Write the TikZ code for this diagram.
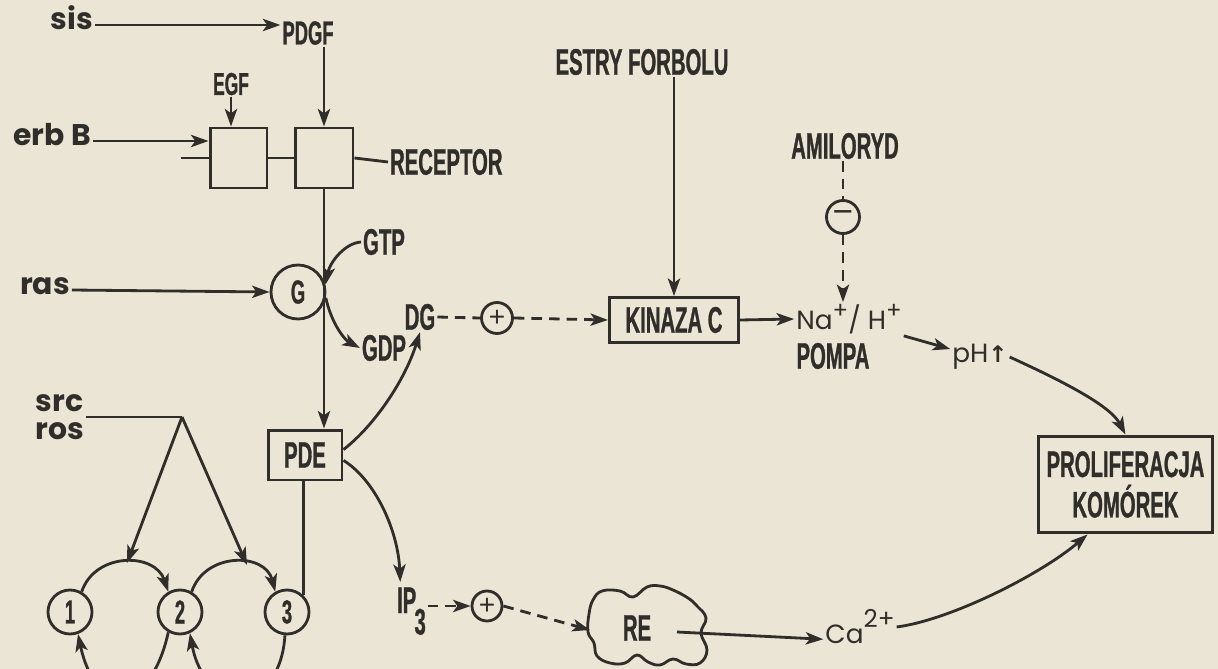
\documentclass[tikz,border=0pt]{standalone}
\usepackage{fontspec}
\setmainfont{Liberation Sans}
\newfontfamily\cond{Liberation Sans}[FakeStretch=0.55, BoldFeatures={FakeBold=0.8}]
\newfontfamily\geo{Poppins}
\newfontfamily\djv{DejaVu Sans}
\usetikzlibrary{arrows.meta}
\definecolor{ink}{RGB}{48,46,42}
\definecolor{paper}{RGB}{235,229,213}
\newcommand\capf{\cond\bfseries\fontsize{21}{23}\selectfont}
\newcommand\labf{\geo\bfseries\fontsize{17}{17}\selectfont}
\newcommand\regf{\geo\fontsize{15}{15}\selectfont}
\tikzset{
  ln/.style={draw=ink, line width=1.6pt},
  arr/.style={ln, -{Stealth[length=10pt,width=7pt,inset=2.5pt]}},
  dsh/.style={ln, dash pattern=on 6pt off 4pt},
  darr/.style={dsh, -{Stealth[length=10pt,width=7pt,inset=2.5pt]}},
  captxt/.style={inner sep=1pt, font=\capf, text=ink},
  lab/.style={inner sep=1pt, font=\labf, text=ink},
  reg/.style={inner sep=1pt, font=\regf, text=ink},
  box/.style={draw=ink, line width=1.7pt, inner sep=0pt, font=\capf, text=ink, align=center},
  circ/.style={circle, draw=ink, line width=1.6pt, inner sep=0pt, font=\capf\fontsize{19}{19}\selectfont, text=ink},
  sign/.style={circle, draw=ink, line width=1.6pt, inner sep=0pt, text=ink, font=\rmfamily\fontsize{16}{16}\selectfont}
}
\begin{document}
\begin{tikzpicture}[x=0.02cm,y=-0.02cm]
\useasboundingbox (0,0) rectangle (1218,669);
\fill[paper] (0,0) rectangle (1218,669);

% top left
\node[lab, anchor=mid] (sis) at (72,25) {sis};
\node[captxt, font=\capf\fontsize{19}{19}\selectfont] (pdgf) at (308,33) {PDGF};
\node[captxt, font=\capf\fontsize{18}{18}\selectfont] (egf) at (231,84) {EGF};
\node[lab, anchor=mid] (erb) at (52,141) {erb B};
\node[box, minimum width=1.14cm, minimum height=1.2cm] (b1) at (238.5,158) {};
\node[box, minimum width=1.16cm, minimum height=1.2cm] (b2) at (324,158) {};
\node[captxt, anchor=west] (rec) at (388,162) {RECEPTOR};

% G protein
\node[circ, minimum size=1.08cm] (g) at (298,292) {G};
\node[lab, anchor=mid] (ras) at (45,290) {ras};
\node[captxt] (gtp) at (384,242) {GTP};
\node[captxt] (gdp) at (384,348) {GDP};
\node[captxt] (dg) at (420,317) {DG};
\node[sign, minimum size=0.62cm] (p1) at (497,318) {+};

% kinase
\node[box, minimum width=2.58cm, minimum height=0.9cm] (kin) at (674,320) {KINAZA C};
\node[captxt] (estry) at (642,62) {ESTRY FORBOLU};
\node[captxt] (amil) at (845,146) {AMILORYD};
\node[sign, minimum size=0.66cm] (m1) at (843,217) {\fontsize{20}{20}\selectfont −};
\node[reg] (na) at (849,319) {Na\raisebox{0.75ex}{\fontsize{13}{13}\selectfont +}/ H\raisebox{0.75ex}{\fontsize{13}{13}\selectfont +}};
\node[captxt] (pompa) at (833,356) {POMPA};
\node[reg] (ph) at (980,357) {pH{\djv\bfseries\fontsize{13}{13}\selectfont ↑}};
\node[box, minimum width=3.5cm, minimum height=1.94cm] (prol) at (1125.5,484.5) {PROLIFERACJA\\KOMÓREK};

% PDE and lower left
\node[box, minimum width=1.48cm, minimum height=1cm] (pde) at (305,455) {PDE};
\node[lab, align=left, font=\geo\bfseries\fontsize{17}{16}\selectfont] (sr) at (60,417) {src\\ros};
\coordinate (apex) at (182,417);
\coordinate (t12) at (127,563);
\coordinate (t23) at (247,565);
\node[circ, minimum size=0.88cm] (c1) at (70,612) {1};
\node[circ, minimum size=0.88cm] (c2) at (180,612) {2};
\node[circ, minimum size=0.88cm] (c3) at (287,612) {3};

% IP3 and RE
\node[captxt, anchor=base west] (ip) at (395,613) {IP\kern-1pt\raisebox{-1.1ex}{3}};
\node[sign, minimum size=0.6cm] (p2) at (487,606) {+};
\draw[ln] plot[smooth cycle, tension=0.7] coordinates {
  (593,600) (602,591) (620,591) (633,597) (647,587) (660,586) (673,590)
  (688,598) (697,606) (706,618) (701,633) (707,650) (700,663) (686,664)
  (673,659) (660,665) (648,662) (637,655) (625,663) (610,663) (597,656)
  (594,643) (588,632) (589,614)};
\node[captxt] (re) at (637,628) {RE};
\coordinate (reL) at (590,630);
\coordinate (reR) at (677,632);
\node[reg] (ca) at (860,627) {Ca\raisebox{1.1ex}{\fontsize{14}{14}\selectfont 2+}};

% connectors top
\draw[arr] (sis.mid east) -- (sis.mid east -| pdgf.west);
\draw[arr] (egf.south) -- (egf.south |- b1.north);
\draw[arr] (b2.north |- pdgf.south) -- (b2.north);
\draw[arr] (erb.mid east) -- (erb.mid east -| b1.west);
\draw[ln] (b1.west) -- ++(-28,0);
\draw[ln] (b1.east) -- (b2.west);
\draw[ln] (b2.east) -- (rec.west);
\draw[arr] (b2.south) -- (b2.south |- pde.north);
\draw[arr] (ras.mid east) -- (g.west);
\draw[arr] (gtp.west) .. controls (345,243) and (330,262) .. (g.15);
\draw[arr] (g.-12) .. controls (332,325) and (345,340) .. (gdp.west);
\draw[dsh] (dg.east) -- (p1.west);
\draw[darr] (p1.east) -- (kin.west);
\draw[arr] (kin.north |- estry.south) -- (kin.north);
\draw[dsh] (m1.north |- amil.south) -- (m1.north);
\draw[darr] (m1.south) -- (m1.south |- na.north);
\draw[arr] (kin.east) -- (na.west);
\draw[arr] (na.south east) -- (ph.165);
\draw[arr] (ph.east) .. controls (1060,380) and (1110,405) .. (prol.north);

% PDE branches
\draw[arr] (pde.8) .. controls (375,425) and (405,380) .. (dg.south);
\draw[arr] (pde.-8) .. controls (375,480) and (398,530) .. ([xshift=3pt,yshift=2pt]ip.north west);
\draw[ln] (pde.south -| c3.45) -- (c3.45);

% src/ros and cycle
\draw[ln] (sr.east) -- (apex);
\draw[arr] (apex) -- (t12);
\draw[arr] (apex) -- (t23);
\draw[arr] (c1.60) .. controls (95,552) and (155,552) .. (c2.120);
\draw[arr] (c2.60) .. controls (205,552) and (265,552) .. (c3.120);
\draw[arr] (c2.240) .. controls (150,715) and (95,715) .. (c1.290);
\draw[arr] (c3.265) .. controls (280,715) and (205,715) .. (c2.295);

% IP3 -> RE -> Ca
\draw[darr] (ip.east |- p2.west) -- (p2.west);
\draw[darr] (p2.east) -- (reL);
\draw[arr] (reR) -- (ca.mid west);
\draw[arr] (ca.east) .. controls (950,620) and (1040,575) .. ([xshift=-21.6pt]prol.south);
\end{tikzpicture}
\end{document}
